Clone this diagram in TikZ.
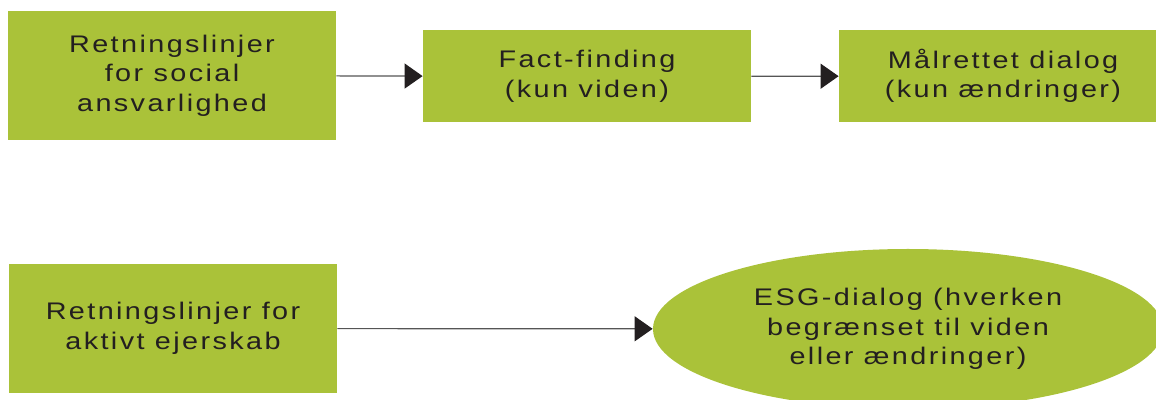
\documentclass[tikz,border=0pt]{standalone}
\usepackage{fontspec}
\setmainfont{Liberation Sans}[FakeStretch=1.2, LetterSpace=10]
\usetikzlibrary{shapes.geometric,arrows.meta}
\definecolor{esggreen}{RGB}{170,194,57}
\definecolor{inkgray}{RGB}{35,31,32}
\definecolor{linegray}{RGB}{85,85,85}

\begin{document}
\begin{tikzpicture}
  [x=0.5pt, y=-0.5pt, >={Triangle[length=9pt,width=12.5pt,color=inkgray]},
    every box/.style={
      rectangle,
      fill=esggreen,
      text=inkgray,
      align=center,
      inner sep=0pt,
      minimum width=164pt,
      font=\fontsize{12}{14.8}\selectfont,
      execute at begin node=\rule{0pt}{13.6pt}
    },
    box tall/.style={minimum height=64.5pt},
    box low/.style={minimum height=46pt},
    box oval/.style={
      ellipse,
      minimum width=255pt,
      minimum height=80pt
    },
  ]
\clip (0,0) rectangle (1156,400);

% Draw upper row
\node [every box/.try, box tall/.try] (social) at (172,75.5) {Retningslinjer\\for social\\ansvarlighed};
\node [every box/.try, box low/.try] (fact) at (587,76.5) {Fact-finding\\(kun viden)};
\node [every box/.try, box low/.try] (target) at (1003,76) {Målrettet dialog\\(kun ændringer)};

% Draw lower row
\node [every box/.try, box tall/.try] (owner) at (173,328.5) {Retningslinjer for\\aktivt ejerskab};
\node [every box/.try, box oval/.try] (esg) at (908,329) {ESG-dialog (hverken\\begrænset til viden\\eller ændringer)};

% Connect boxes
\foreach \a/\b in {social/fact, fact/target, owner/esg}
  \draw [->, linegray, line width=0.6pt] (\a) -- (\b);
\end{tikzpicture}
\end{document}
